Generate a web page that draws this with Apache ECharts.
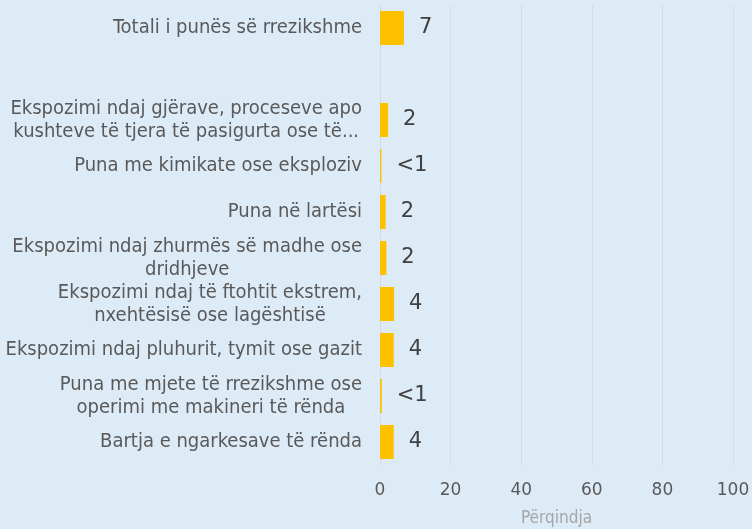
<!DOCTYPE html>
<html>
<head>
<meta charset="utf-8">
<script src="https://cdn.jsdelivr.net/npm/echarts@6/dist/echarts.min.js"></script>
<style>
html,body{margin:0;padding:0;background:#DDEBF7;}
#chart{width:752px;height:529px;}
</style>
</head>
<body>
<div id="chart"></div>
<script>
var categories = [
  "Totali i punës së rrezikshme",
  "",
  "Ekspozimi ndaj gjërave, proceseve apo\nkushteve të tjera të pasigurta ose të...",
  "Puna me kimikate ose eksploziv",
  "Puna në lartësi",
  "Ekspozimi ndaj zhurmës së madhe ose\ndridhjeve",
  "Ekspozimi ndaj të ftohtit ekstrem,\nnxehtësisë ose lagështisë",
  "Ekspozimi ndaj pluhurit, tymit ose gazit",
  "Puna me mjete të rrezikshme ose\noperimi me makineri të rënda",
  "Bartja e ngarkesave të rënda"
];
var values = [6.8, null, 2.3, 0.4, 1.6, 1.8, 4.0, 3.9, 0.5, 3.9];
var valueLabels = ["7", "", "2", "<1", "2", "2", "4", "4", "<1", "4"];
var xTicks = [0, 20, 40, 60, 80, 100];
var axisTitle = "Përqindja";

var catFont = '"DejaVu Sans Condensed", "DejaVu Sans", sans-serif';
var chart = echarts.init(document.getElementById('chart'));
chart.setOption({
  backgroundColor: '#DDEBF7',
  animation: false,
  grid: {left: 380, right: 19, top: 5, bottom: 64, containLabel: false, outerBoundsMode: 'none'},
  xAxis: {
    type: 'value',
    min: xTicks[0],
    max: xTicks[xTicks.length - 1],
    interval: 20,
    name: axisTitle,
    nameLocation: 'middle',
    nameGap: 45,
    nameTextStyle: {color: '#A6A6A6', fontSize: 17, fontFamily: catFont},
    axisLine: {show: false},
    axisTick: {show: false},
    splitLine: {show: true, lineStyle: {color: '#D5DCE4', width: 1}},
    axisLabel: {color: '#595959', fontSize: 17, fontFamily: 'DejaVu Sans', margin: 17}
  },
  yAxis: {
    type: 'category',
    data: categories,
    inverse: true,
    axisLine: {show: true, lineStyle: {color: '#D5DCE4'}},
    axisTick: {show: false},
    axisLabel: {
      margin: 18,
      color: '#595959',
      fontSize: 20,
      fontFamily: catFont,
      lineHeight: 23,
      formatter: function (v) {
        if (!v) return '';
        return v.split('\n').map(function (l) { return '{c|' + l + '}'; }).join('\n');
      },
      rich: {c: {align: 'center', color: '#595959', fontSize: 20, fontFamily: catFont, lineHeight: 23}}
    }
  },
  series: [{
    type: 'bar',
    data: values,
    barCategoryGap: '26%',
    itemStyle: {color: '#FFC000'},
    label: {
      show: true,
      position: 'right',
      distance: 15,
      color: '#404040',
      fontSize: 21,
      fontFamily: 'DejaVu Sans',
      formatter: function (p) { return valueLabels[p.dataIndex]; }
    }
  }]
});
</script>
</body>
</html>
